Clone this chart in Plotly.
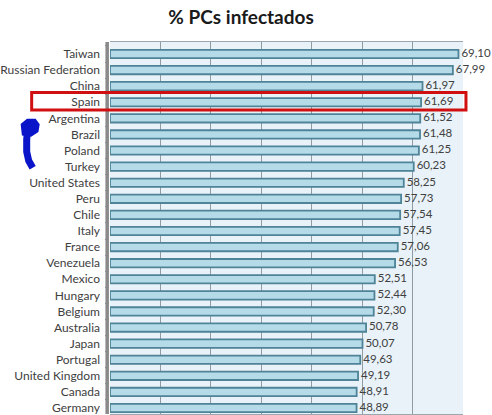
import plotly.graph_objects as go

countries = ["Taiwan", "Russian Federation", "China", "Spain", "Argentina", "Brazil",
             "Poland", "Turkey", "United States", "Peru", "Chile", "Italy", "France",
             "Venezuela", "Mexico", "Hungary", "Belgium", "Australia", "Japan",
             "Portugal", "United Kingdom", "Canada", "Germany"]
values = [69.10, 67.99, 61.97, 61.69, 61.52, 61.48, 61.25, 60.23, 58.25, 57.73,
          57.54, 57.45, 57.06, 56.53, 52.51, 52.44, 52.30, 50.78, 50.07, 49.63,
          49.19, 48.91, 48.89]
highlight = "Spain"

W, H = 492, 415
ML, MR, MT, MB = 107, 29, 42, 0
PW, PH = W - ML - MR, H - MT - MB
ROW = (409 - 54) / (len(countries) - 1)


def px(x, y):
    return (x - ML) / PW, 1 - (y - MT) / PH


fig = go.Figure()
fig.add_trace(go.Bar(
    y=countries, x=values, orientation="h", width=0.52,
    marker=dict(color="#b5dbe8", line=dict(color="#4e8398", width=1.8)),
    hoverinfo="skip",
))
fig.add_trace(go.Scatter(
    y=countries, x=values, mode="text",
    text=[" " + f"{v:.2f}".replace(".", ",") for v in values],
    textposition="middle right",
    textfont=dict(family="Lato", size=11.5, color="#404040"),
    cliponaxis=False, hoverinfo="skip",
))

# left 3D wall
fig.add_shape(type="rect", xref="paper", yref="paper", x0=-0.013, x1=-0.003, y0=0, y1=1,
              fillcolor="#8a8a8a", line_width=0, layer="below")

# red highlight box around Spain
hi = countries.index(highlight)
fig.add_shape(type="rect", xref="paper", yref="y", x0=px(28, 0)[0], x1=px(466, 0)[0],
              y0=hi - 0.6, y1=hi + 0.48, line=dict(color="#d01010", width=3),
              fillcolor="rgba(0,0,0,0)")

# blue hand-drawn scribble
pts1 = [(19, 125), (24, 121), (31, 121), (34, 125), (33, 131), (27, 135), (20, 134)]
pts2 = [(24, 128), (23, 140), (23, 152), (25, 161), (29, 168)]
def path(pts):
    return "M " + " L ".join(f"{px(a, b)[0]:.4f},{px(a, b)[1]:.4f}" for a, b in pts)
fig.add_shape(type="path", xref="paper", yref="paper", path=path(pts1) + " Z",
              fillcolor="#0a14c8", line=dict(color="#0a14c8", width=4))
fig.add_shape(type="path", xref="paper", yref="paper", path=path(pts2),
              line=dict(color="#0a14c8", width=7))

idx_top = -12 / ROW
idx_bottom = (H - 54) / ROW
fig.update_layout(
    width=W, height=H, margin=dict(l=ML, r=MR, t=MT, b=MB),
    paper_bgcolor="white", plot_bgcolor="#e8f2f8",
    showlegend=False,
    title=dict(text="<b>% PCs infectados</b>", x=0.49, xanchor="center", y=0.975, yanchor="top",
               font=dict(family="Lato", size=19, color="#1a1a1a")),
    font=dict(family="Lato", size=12, color="#404040"),
)
fig.update_xaxes(range=[0, 70], dtick=10, showticklabels=False, showgrid=True,
                 gridcolor="#8f9ca4", gridwidth=1, zeroline=False,
                 showline=True, linecolor="#9aa7ae", mirror=True, fixedrange=True)
fig.update_yaxes(categoryorder="array", categoryarray=countries,
                 range=[idx_bottom, idx_top], ticks="outside", tickson="boundaries",
                 ticklen=4, tickcolor="#8a8a8a", showgrid=False, fixedrange=True,
                 ticklabelstandoff=9,
                 tickfont=dict(family="Lato", size=12, color="#404040"))

fig.write_html("out.html")
